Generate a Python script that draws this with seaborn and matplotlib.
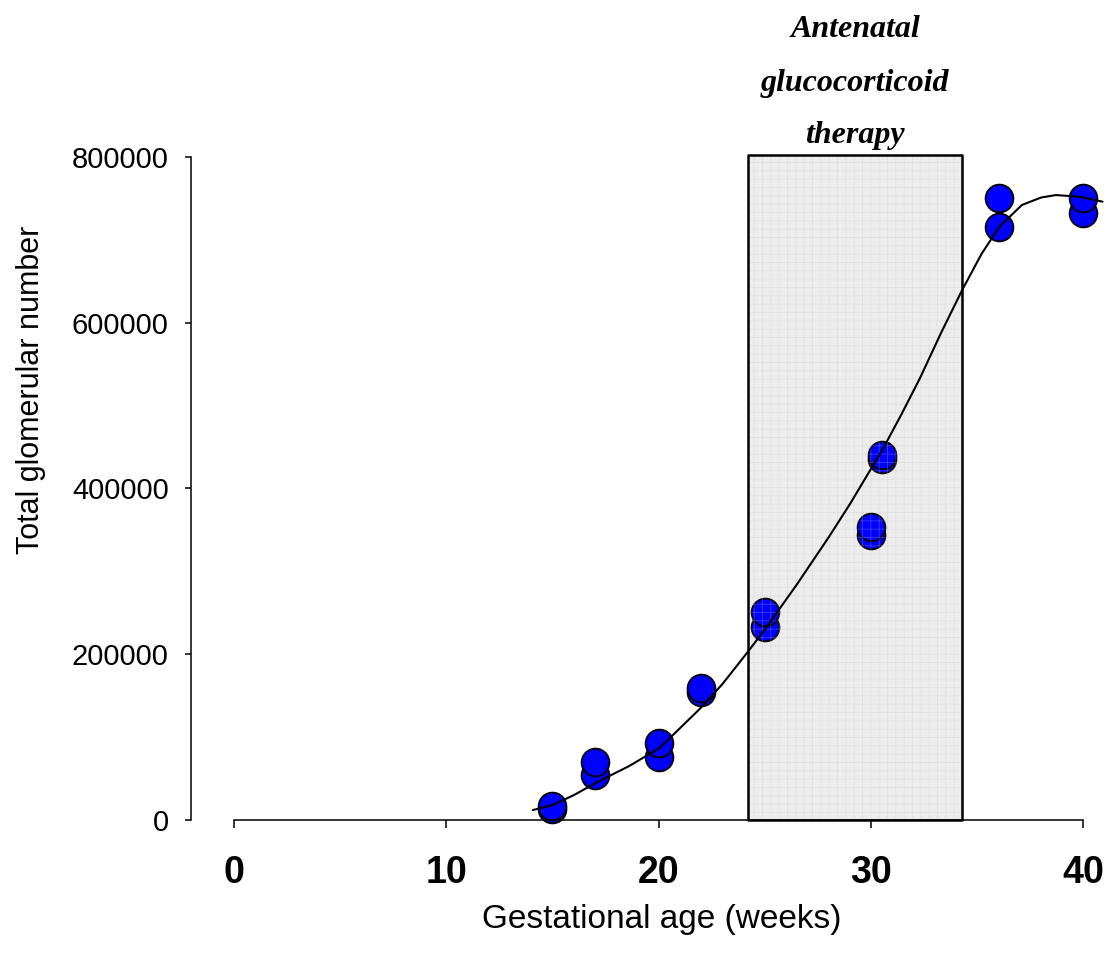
import numpy as np
import pandas as pd
import matplotlib
matplotlib.use("Agg")
import matplotlib.pyplot as plt
import seaborn as sns

# Data
gest_age = [15, 15, 17, 17, 20, 20, 22, 22, 25, 25, 30, 30, 30.5, 30.5, 36, 36, 40, 40]
glom_number = [13000, 17000, 54000, 70000, 76000, 93000, 154000, 159000, 233000, 251000,
               344000, 353000, 436000, 440000, 715000, 750000, 732000, 750000]

# fitted growth curve
fit_age = [14.07, 15, 16, 17.2, 18.6, 20.05, 21.93, 23, 24.14, 25, 26.5, 28, 29,
           30.54, 31.4, 32.3, 33.3, 34.3, 35.2, 36.05, 37.1, 38.0, 38.7, 39.8, 40.9]
fit_glom = [12000, 18000, 30000, 47000, 65000, 87000, 134000, 164000, 201000, 230000,
            284000, 341000, 381000, 447000, 488000, 533000, 588000, 640000, 683000,
            716000, 742000, 751000, 754000, 752000, 746000]

x_ticks = [0, 10, 20, 30, 40]
y_ticks = [0, 200000, 400000, 600000, 800000]
therapy_weeks = [24.2, 34.3]
therapy_top = 802000
therapy_lines = ["Antenatal", "glucocorticoid", "therapy"]

data = pd.DataFrame({"age": gest_age, "glom": glom_number})
fit = pd.DataFrame({"age": fit_age, "glom": fit_glom})

sns.set_style("white")
plt.rcParams["font.family"] = ["Liberation Sans", "DejaVu Sans"]
plt.rcParams["hatch.linewidth"] = 0.6
for key in ["text.color", "axes.labelcolor", "xtick.color", "ytick.color"]:
    plt.rcParams[key] = "black"

fig = plt.figure(figsize=(11.17, 9.61), dpi=100)
ax = fig.add_axes([0.171, 0.1467, 0.818, 0.690])

# shaded therapy window
ax.fill_between(therapy_weeks, 0, therapy_top, facecolor="#ececec", edgecolor="none",
                zorder=1, clip_on=False)
sns.scatterplot(data=data, x="age", y="glom", ax=ax, s=400, color="#0000ff",
                edgecolor="black", linewidth=1.3, zorder=2, clip_on=False, legend=False)
ax.fill_between(therapy_weeks, 0, therapy_top, facecolor="none", edgecolor="#c4c4c4",
                hatch="++", linewidth=0, alpha=0.3, zorder=3, clip_on=False)
ax.fill_between(therapy_weeks, 0, therapy_top, facecolor="none", edgecolor="black",
                linewidth=1.8, zorder=5, clip_on=False)

sns.lineplot(data=fit, x="age", y="glom", ax=ax, color="black", linewidth=1.5,
             zorder=4, clip_on=False, sort=True)

ax.set_xlim(-2.02, 41.0)
ax.set_ylim(0, 800000)
sns.despine(ax=ax)
ax.spines["left"].set_bounds(0, 800000)
ax.spines["bottom"].set_bounds(0, 40)
for sp in ["left", "bottom"]:
    ax.spines[sp].set_linewidth(1.1)
    ax.spines[sp].set_color("black")

ax.set_xticks(x_ticks)
ax.set_xticklabels([str(t) for t in x_ticks], fontsize=27, fontweight="bold")
ax.set_yticks(y_ticks)
ax.set_yticklabels([str(t) for t in y_ticks], fontsize=21)
ax.tick_params(axis="x", direction="out", length=6, width=1.1, pad=19, bottom=True)
ax.tick_params(axis="y", direction="out", length=4, width=1.1, pad=12, left=True)

ax.set_xlabel("Gestational age (weeks)", fontsize=24, va="center")
ax.xaxis.set_label_coords(0.515, -0.150)
ax.set_ylabel("Total glomerular number", fontsize=22, va="center")
ax.yaxis.set_label_coords(-0.175, 0.649)

# annotation above the box, one text per line
baselines = [944800, 879700, 816900]
for line, yb in zip(therapy_lines, baselines):
    ax.text(np.mean(therapy_weeks), yb, line, ha="center", va="baseline", fontsize=23,
            fontweight="bold", fontstyle="italic", family="Liberation Serif", clip_on=False)

plt.savefig("out.png", dpi=100)
